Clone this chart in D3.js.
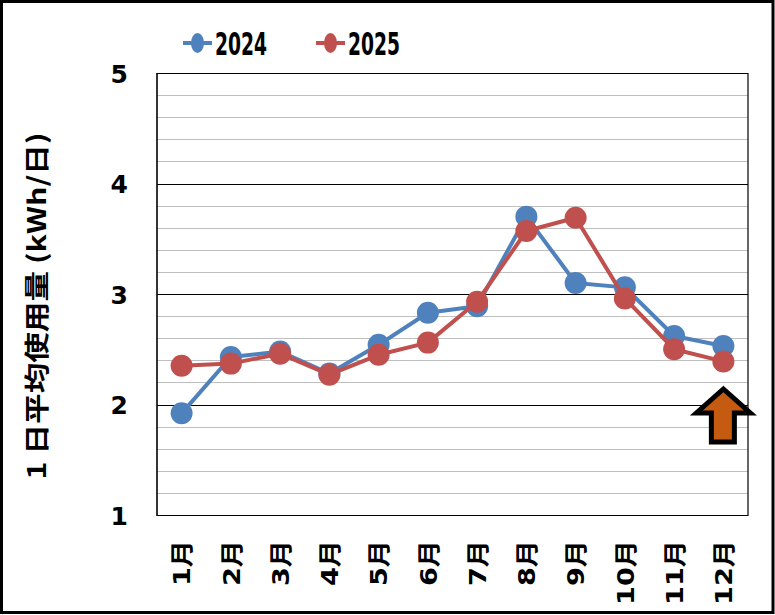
<!DOCTYPE html>
<html><head><meta charset="utf-8">
<script src="https://cdn.jsdelivr.net/npm/d3@7"></script>
<style>html,body{margin:0;padding:0;background:#fff;}</style>
</head><body>
<script>
const months = ["1月","2月","3月","4月","5月","6月","7月","8月","9月","10月","11月","12月"];
const values2024 = [1.92,2.43,2.48,2.28,2.54,2.83,2.89,3.70,3.10,3.06,2.62,2.53];
const values2025 = [2.35,2.37,2.46,2.27,2.45,2.56,2.93,3.57,3.69,2.96,2.50,2.39];
const seriesNames = ["2024","2025"];
const yTickValues = [1,2,3,4,5];
const minorTickValues = d3.range(1,5.001,0.2).map(v=>+v.toFixed(1));
const yTitle = "1 日平均使用量 (kWh/日)";

const W=775,H=615;
const L=157,R=748,T=73,B=515;
const colors=["#4F81BD","#C0504D"];
const numFont='"DejaVu Sans","Noto Sans CJK JP",sans-serif';

const svg=d3.select("body").append("svg").attr("width",W).attr("height",H);
svg.append("rect").attr("x",1.5).attr("y",1.5).attr("width",W-3.5).attr("height",H-4).attr("fill","#fff").attr("stroke","#000").attr("stroke-width",3);

const x=d3.scalePoint().domain(months).range([L,R]).padding(0.5);
const y=d3.scaleLinear().domain([1,5]).range([B,T]);

// minor grid
svg.append("g").selectAll("line").data(minorTickValues.filter(v=>!yTickValues.includes(v))).join("line")
  .attr("x1",L).attr("x2",R).attr("y1",d=>Math.round(y(d))+0.5).attr("y2",d=>Math.round(y(d))+0.5)
  .attr("stroke","#BFBFBF").attr("stroke-width",1);
// major grid
svg.append("g").selectAll("line").data(yTickValues).join("line")
  .attr("x1",L).attr("x2",R).attr("y1",d=>Math.round(y(d))+0.5).attr("y2",d=>Math.round(y(d))+0.5)
  .attr("stroke","#000").attr("stroke-width",1.2);
// plot frame
svg.append("line").attr("x1",L).attr("x2",L).attr("y1",T).attr("y2",B+1).attr("stroke","#000").attr("stroke-width",1.6);
svg.append("line").attr("x1",R).attr("x2",R).attr("y1",T).attr("y2",B+1).attr("stroke","#000").attr("stroke-width",1.2);

// y axis labels
const yAxis=d3.axisLeft(y).tickValues(yTickValues).tickSize(0).tickPadding(0).tickFormat(d3.format("d"));
const ya=svg.append("g").attr("transform",`translate(${L-29},0)`).call(yAxis);
ya.select(".domain").remove();
ya.selectAll("text").attr("font-family",numFont).attr("font-weight","bold").attr("font-size",25).attr("fill","#000").attr("dy","0.36em");

// x axis labels
const xAxis=d3.axisBottom(x).tickSize(0).tickPadding(0);
const xa=svg.append("g").attr("transform",`translate(0,${B})`).call(xAxis);
xa.select(".domain").remove();
xa.selectAll("text").attr("font-family",numFont).attr("font-weight","bold").attr("font-size",23).attr("fill","#000")
  .attr("text-anchor","end").attr("dy","0.36em").attr("transform","translate(0,25) rotate(-90) scale(1.18,1)").attr("x",0).attr("y",0);

// y title
svg.append("text").attr("transform",`translate(37,306) rotate(-90)`).attr("text-anchor","middle").attr("dy","0.36em")
  .attr("font-family",'"Noto Sans CJK JP",sans-serif').attr("font-weight","bold").attr("font-size",25)
  .attr("textLength",347).attr("lengthAdjust","spacingAndGlyphs").text(yTitle);

// lines
const line=d3.line().x((d,i)=>x(months[i])).y(d=>y(d));
[values2024,values2025].forEach((vals,k)=>{
  const g=svg.append("g");
  g.append("path").datum(vals).attr("d",line).attr("fill","none").attr("stroke",colors[k]).attr("stroke-width",4).attr("stroke-linejoin","round");
  g.selectAll("circle").data(vals).join("circle").attr("cx",(d,i)=>x(months[i])).attr("cy",d=>y(d)).attr("r",11).attr("fill",colors[k]);
});

// legend
const legX=[183,316];
seriesNames.forEach((n,k)=>{
  const g=svg.append("g").attr("transform",`translate(${legX[k]},43)`);
  g.append("line").attr("x1",0).attr("x2",29).attr("stroke",colors[k]).attr("stroke-width",4);
  g.append("ellipse").attr("cx",14.5).attr("rx",6.5).attr("ry",10).attr("fill",colors[k]);
  g.append("text").attr("x",32).attr("dy","0.36em").attr("font-family",'"DejaVu Sans",sans-serif')
    .attr("font-weight","bold").attr("font-size",32).attr("textLength",52).attr("lengthAdjust","spacingAndGlyphs").text(n);
});

// arrow at 12月
const ax=x(months[11]);
const arrow=`M${ax},389 L${ax+27},413 L${ax+11},413 L${ax+11},442 L${ax-12},442 L${ax-12},413 L${ax-27},413 Z`;
svg.append("path").attr("d",arrow).attr("fill","#C55A11").attr("stroke","#000").attr("stroke-width",5).attr("stroke-linejoin","miter");
</script>
</body></html>
